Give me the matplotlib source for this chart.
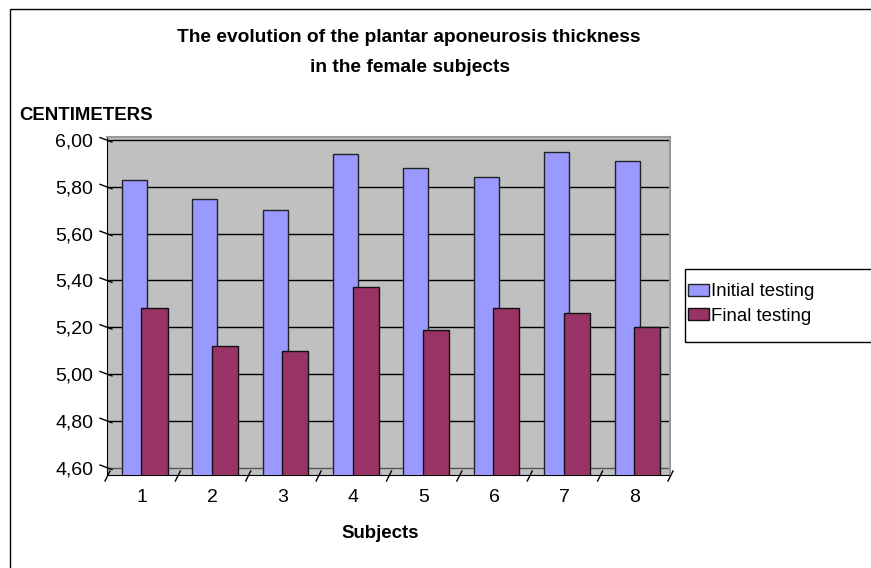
import matplotlib.pyplot as plt
from matplotlib.patches import Patch, Rectangle
import numpy as np

# Plantar aponeurosis thickness (cm), female subjects
subjects = ['1', '2', '3', '4', '5', '6', '7', '8']
initial = [5.83, 5.75, 5.70, 5.94, 5.88, 5.84, 5.95, 5.91]
final = [5.28, 5.12, 5.10, 5.37, 5.19, 5.28, 5.26, 5.20]
yticks = [4.60, 4.80, 5.00, 5.20, 5.40, 5.60, 5.80, 6.00]

W, H = 871, 568
plt.rcParams['font.family'] = ['Liberation Sans', 'DejaVu Sans']
FS = 13.4

fig = plt.figure(figsize=(W / 100, H / 100), dpi=100)

def px(x, y):
    # pixel position (top-left origin) -> figure fraction
    return x / W, 1 - y / H

# outer chart frame
fig.patches.append(Rectangle(px(10, 580), 900 / W, 571 / H, transform=fig.transFigure,
                             fill=False, edgecolor='black', lw=1))

left, right, top, bottom = 107, 670, 137, 475
ax = fig.add_axes([left / W, 1 - bottom / H, (right - left) / W, (bottom - top) / H])
ax.set_facecolor('#c0c0c0')

x = np.arange(len(subjects))
ax.bar(x - 0.11, initial, width=0.355, color='#9999ff', edgecolor='#222222', lw=1, zorder=3)
ax.bar(x + 0.175, final, width=0.37, color='#993366', edgecolor='#111111', lw=1, zorder=4)

ax.set_xlim(-0.5, len(subjects) - 0.5)
ax.set_ylim(4.568, 6.013)

# gridlines on the back wall
for t in yticks:
    ax.axhline(t, color='black' if t > 4.7 else '#555555', lw=1, zorder=1)

ax.set_yticks(yticks)
ax.set_yticklabels([f'{t:.2f}'.replace('.', ',') for t in yticks], fontsize=14)
ax.set_xticks(x)
ax.set_xticklabels(subjects, fontsize=14)
ax.tick_params(axis='y', length=0, pad=10)
ax.tick_params(axis='x', length=0, pad=10)

for s in ['left', 'bottom']:
    ax.spines[s].set_color('black')
for s in ['top', 'right']:
    ax.spines[s].set_color('#999999')
    ax.spines[s].set_linewidth(1.5)

# slanted tick marks
aw, ah = right - left, bottom - top
upp = (6.013 - 4.568) / ah
for t in yticks:
    ax.plot([-7 / aw, 5 / aw], [t + 2.5 * upp, t - 2 * upp], color='black', lw=1,
            transform=ax.get_yaxis_transform(), clip_on=False)
for b in np.arange(len(subjects) + 1) - 0.5:
    ax.plot([b - 2 / 70.4, b + 3 / 70.4], [-6 / ah, 4 / ah], color='black', lw=1,
            transform=ax.get_xaxis_transform(), clip_on=False)

# titles
fig.text(*px(409, 38), 'The evolution of the plantar aponeurosis thickness',
         ha='center', va='center', fontsize=FS + 0.4, fontweight='bold')
fig.text(*px(410, 67), 'in the female subjects',
         ha='center', va='center', fontsize=FS + 0.4, fontweight='bold')
fig.text(*px(19, 116), 'CENTIMETERS', ha='left', va='center', fontsize=FS, fontweight='bold')
fig.text(*px(380, 533), 'Subjects', ha='center', va='center', fontsize=FS, fontweight='bold')

# legend box
fig.patches.append(Rectangle(px(685, 342), 200 / W, 73 / H, transform=fig.transFigure,
                             fill=False, edgecolor='black', lw=1))
handles = [Patch(facecolor='#9999ff', edgecolor='#222222'),
           Patch(facecolor='#993366', edgecolor='#111111')]
fig.legend(handles, ['Initial testing', 'Final testing'], loc='center left',
           bbox_to_anchor=px(688, 304), frameon=False, fontsize=FS,
           handlelength=1.15, handleheight=0.6, handletextpad=0.1, labelspacing=0.4,
           borderpad=0, borderaxespad=0)

fig.savefig('out.png', dpi=100)
